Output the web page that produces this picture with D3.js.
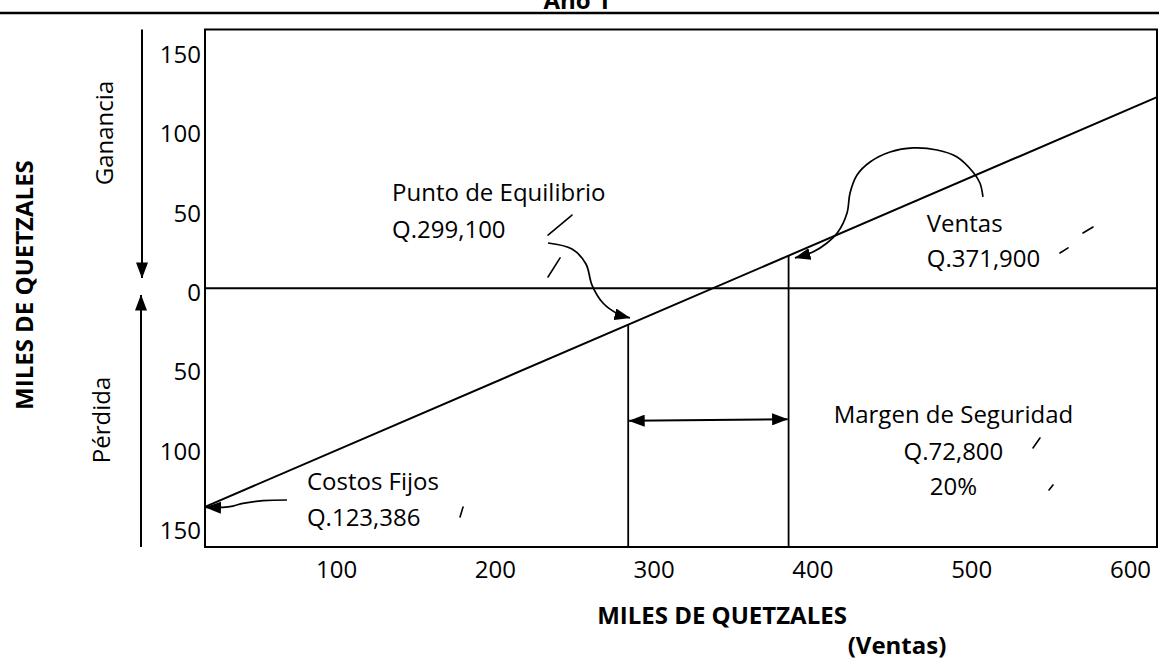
<!DOCTYPE html>
<html><head><meta charset="utf-8">
<script src="https://cdn.jsdelivr.net/npm/d3@7"></script>
<style>
html,body{margin:0;padding:0;background:#fff;}
svg{display:block;}
text{font-family:"Open Sans",sans-serif;fill:#000;}
</style>
</head><body>
<svg id="chart" width="1159" height="665"></svg>
<script>
// ---------- data (miles de quetzales) ----------
const title = "Año 1";
const xTickValues = [100, 200, 300, 400, 500, 600];
const yTickValues = [-150, -100, -50, 0, 50, 100, 150];
const yTickLabels = ["150", "100", "50", "0", "50", "100", "150"];
const salesLineX = [17.5, 617];      // ventas (eje x)
const salesLineY = [-137.7, 120.4];  // resultado (pérdida / ganancia)
const breakEvenX = 284;              // punto de equilibrio (posición dibujada)
const salesX = 385;                  // ventas actuales (posición dibujada)
const labelBreakEven = ["Punto de Equilibrio", "Q.299,100"];
const labelSales = ["Ventas", "Q.371,900"];
const labelMargin = ["Margen de Seguridad", "Q.72,800", "20%"];
const labelFixed = ["Costos Fijos", "Q.123,386"];
const axisTitleX = ["MILES DE QUETZALES", "(Ventas)"];
const axisTitleY = "MILES DE QUETZALES";
const sideLabels = ["Ganancia", "Pérdida"];

// ---------- layout ----------
const W = 1159, H = 665;
const plot = {left: 205, right: 1157, top: 29.5, bottom: 547};
const svg = d3.select("#chart");
const x = d3.scaleLinear().domain([17.5, 617]).range([plot.left, plot.right]);
const y = d3.scaleLinear().domain([-163, 163]).range([plot.bottom, plot.top]);
const FS = 24;

// markers
const defs = svg.append("defs");
defs.append("marker").attr("id", "ah")
  .attr("viewBox", "0 0 16 12").attr("refX", 15.5).attr("refY", 6)
  .attr("markerWidth", 16).attr("markerHeight", 12)
  .attr("markerUnits", "userSpaceOnUse").attr("orient", "auto-start-reverse")
  .append("path").attr("d", "M0,0 L16,6 L0,12 Z").attr("fill", "#000");

// title + top rule
svg.append("text").attr("x", 577).attr("y", 9).attr("text-anchor", "middle")
  .attr("font-size", FS).attr("font-weight", "bold").text(title);
svg.append("line").attr("x1", 0).attr("x2", W).attr("y1", 13).attr("y2", 13)
  .attr("stroke", "#000").attr("stroke-width", 2.5);

// plot frame
svg.append("rect").attr("x", plot.left).attr("y", plot.top)
  .attr("width", plot.right - plot.left).attr("height", plot.bottom - plot.top)
  .attr("fill", "none").attr("stroke", "#000").attr("stroke-width", 2);

// zero line
svg.append("line").attr("x1", plot.left).attr("x2", plot.right)
  .attr("y1", y(0)).attr("y2", y(0)).attr("stroke", "#000").attr("stroke-width", 2);

// axes
const yAxis = d3.axisLeft(y).tickValues(yTickValues).tickSize(0).tickPadding(4)
  .tickFormat((d, i) => yTickLabels[i]);
const gy = svg.append("g").attr("transform", `translate(${plot.left},0)`).call(yAxis);
gy.select(".domain").remove();
gy.selectAll("text").attr("font-size", FS).attr("font-family", '"Open Sans",sans-serif')
  .attr("fill", "#000").attr("dy", "0.51em");

const xAxis = d3.axisBottom(x).tickValues(xTickValues).tickSize(0).tickPadding(14)
  .tickFormat(d3.format("d"));
const gx = svg.append("g").attr("transform", `translate(0,${plot.bottom})`).call(xAxis);
gx.select(".domain").remove();
gx.selectAll("text").attr("font-size", FS).attr("font-family", '"Open Sans",sans-serif')
  .attr("fill", "#000");

// sales / result line
svg.append("line")
  .attr("x1", x(salesLineX[0])).attr("y1", y(salesLineY[0]))
  .attr("x2", x(salesLineX[1])).attr("y2", y(salesLineY[1]))
  .attr("stroke", "#000").attr("stroke-width", 2);

const lineAt = v => salesLineY[0] + (v - salesLineX[0]) * (salesLineY[1] - salesLineY[0]) / (salesLineX[1] - salesLineX[0]);

// vertical markers
[breakEvenX, salesX].forEach(v => {
  svg.append("line").attr("x1", x(v)).attr("x2", x(v))
    .attr("y1", y(lineAt(v))).attr("y2", plot.bottom)
    .attr("stroke", "#000").attr("stroke-width", 1.8);
});

// safety margin double arrow
svg.append("line").attr("x1", x(breakEvenX) + 1).attr("x2", x(salesX) - 1)
  .attr("y1", y(-83.5)).attr("y2", y(-82.5))
  .attr("stroke", "#000").attr("stroke-width", 2)
  .attr("marker-start", "url(#ah)").attr("marker-end", "url(#ah)");

// annotation curves (data units)
const curve = d3.line().x(d => x(d[0])).y(d => y(d[1])).curve(d3.curveCatmullRom.alpha(0.5));
const beCurve = [[233.5,28.5],[248.6,24.7],[257.4,15.3],[261.2,2.0],[268.1,-9.3],[277.6,-16.2],[285.1,-18.7]];
const salesCurve = [[507.4,57.5],[505.5,66.3],[501.1,73.2],[491.1,82.7],[478.5,87.1],[463.4,88.4],[448.9,85.8],
  [436.3,79.5],[428.1,71.3],[423.7,60.0],[421.8,47.4],[416.1,35.4],[409.2,28.5],[400.3,22.8],[389.0,19.1]];
const fixedCurve = [[69.1,-133.4],[54.0,-133.8],[41.4,-135.5],[35.1,-137.2],[28.8,-138.0],[17.8,-138.0]];
[beCurve, salesCurve, fixedCurve].forEach(c => {
  svg.append("path").attr("d", curve(c)).attr("fill", "none")
    .attr("stroke", "#000").attr("stroke-width", 1.7).attr("marker-end", "url(#ah)");
});

// small hand-drawn strokes
const strokes = [
  [[233.5,33.5],[248.6,46.1]], [[233.5,7.1],[241.1,19.1]],
  [[570.4,34.8],[576.7,38.6]], [[555.9,22.2],[561.0,25.4]],
  [[538.9,-100.6],[543.3,-94.3]], [[549.0,-127.1],[551.5,-123.9]],
  [[178.1,-144.1],[180.0,-137.8]]
];
strokes.forEach(s => {
  svg.append("line").attr("x1", x(s[0][0])).attr("y1", y(s[0][1]))
    .attr("x2", x(s[1][0])).attr("y2", y(s[1][1]))
    .attr("stroke", "#000").attr("stroke-width", 1.6).attr("stroke-linecap", "round");
});

// annotation text
function label(lines, xv, yvs, anchor) {
  lines.forEach((t, i) => {
    svg.append("text").attr("x", x(xv)).attr("y", y(yvs[i]))
      .attr("text-anchor", anchor).attr("font-size", FS).text(t);
  });
}
label(labelBreakEven, 135.3, [55.0, 31.7], "start");
label(labelSales, 472.0, [35.4, 13.4], "start");
label(labelMargin, 488.8, [-84.9, -108.2, -130.2], "middle");
label(labelFixed, 81.7, [-127.1, -149.8], "start");

// axis titles
svg.append("text").attr("x", 722).attr("y", 624).attr("text-anchor", "middle")
  .attr("font-size", FS).attr("font-weight", "bold").text(axisTitleX[0]);
svg.append("text").attr("x", 897).attr("y", 654).attr("text-anchor", "middle")
  .attr("font-size", FS).attr("font-weight", "bold").text(axisTitleX[1]);
svg.append("text").attr("transform", `translate(33,${y(2)}) rotate(-90)`)
  .attr("text-anchor", "middle").attr("font-size", FS).attr("font-weight", "bold").text(axisTitleY);

// side arrows + labels
svg.append("line").attr("x1", 142).attr("x2", 142).attr("y1", y(163)).attr("y2", y(6.5))
  .attr("stroke", "#000").attr("stroke-width", 2).attr("marker-end", "url(#ah)");
svg.append("line").attr("x1", 141).attr("x2", 141).attr("y1", y(-163)).attr("y2", y(-4.3))
  .attr("stroke", "#000").attr("stroke-width", 2).attr("marker-end", "url(#ah)");
svg.append("text").attr("transform", `translate(113,${y(97.8)}) rotate(-90)`)
  .attr("text-anchor", "middle").attr("font-size", FS).text(sideLabels[0]);
svg.append("text").attr("transform", `translate(110,${y(-83)}) rotate(-90)`)
  .attr("text-anchor", "middle").attr("font-size", FS).text(sideLabels[1]);
</script>
</body></html>
